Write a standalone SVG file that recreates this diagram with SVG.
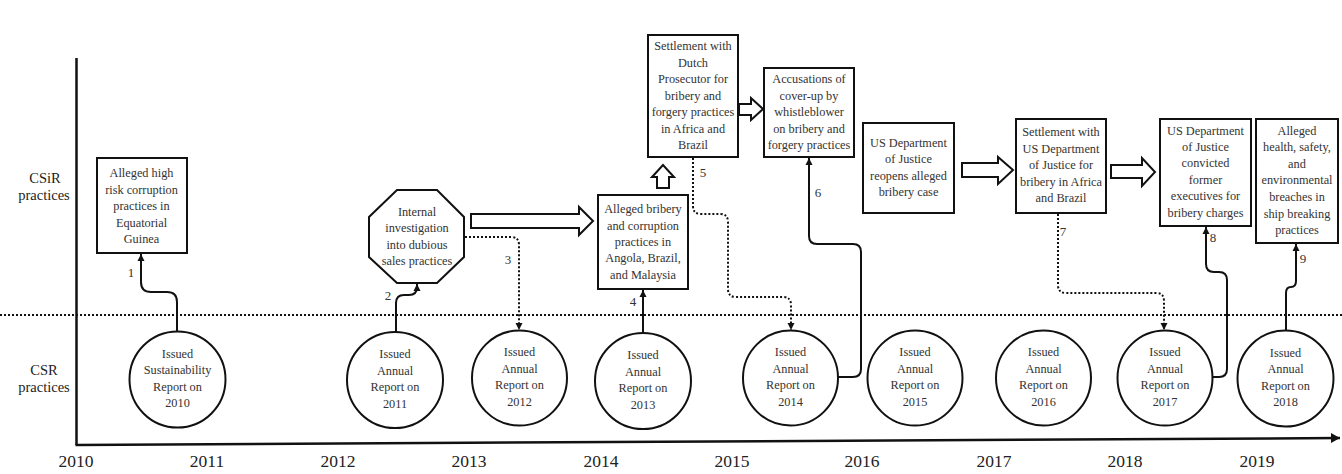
<svg xmlns="http://www.w3.org/2000/svg" width="1342" height="474" viewBox="0 0 1342 474">
<style>
.box{fill:#fff;stroke:#111;stroke-width:2}
.circ{fill:#fff;stroke:#111;stroke-width:2}
.blk{fill:#fff;stroke:#111;stroke-width:2;stroke-linejoin:miter}
.t{font-family:"Liberation Serif","Times New Roman",serif;font-size:12.3px;fill:#333;text-anchor:middle}
.lab{font-family:"Liberation Serif","Times New Roman",serif;font-size:13px;fill:#333;text-anchor:middle}
.yr{font-family:"Liberation Serif","Times New Roman",serif;font-size:17.5px;fill:#222;text-anchor:middle}
.side{font-family:"Liberation Serif","Times New Roman",serif;font-size:14.5px;fill:#222;text-anchor:middle}
.con{fill:none;stroke:#111;stroke-width:2}
.dot{fill:none;stroke:#111;stroke-width:2;stroke-dasharray:2 2}
</style>
<defs>
<marker id="ah" markerUnits="userSpaceOnUse" markerWidth="8" markerHeight="8" refX="7" refY="4" orient="auto">
<path d="M0,0.5 L7,4 L0,7.5 z" fill="#111"/>
</marker>
<marker id="axh" markerUnits="userSpaceOnUse" markerWidth="10" markerHeight="12" refX="9" refY="6" orient="auto">
<path d="M0,1 L9,6 L0,11 z" fill="#111"/>
</marker>
</defs>

<g id="axes">
<line x1="76.5" y1="58" x2="76.5" y2="445" stroke="#111" stroke-width="2.5"/>
<line x1="75.5" y1="445" x2="1340" y2="438" stroke="#111" stroke-width="2.5" marker-end="url(#axh)"/>
<line x1="0" y1="315" x2="1342" y2="315" stroke="#111" stroke-width="2" stroke-dasharray="2 2"/>
</g>

<g id="labels">
<text class="side" x="45" y="183">CSiR</text>
<text class="side" x="44" y="200">practices</text>
<text class="side" x="44" y="375">CSR</text>
<text class="side" x="44" y="392">practices</text>
<text class="yr" x="76" y="467">2010</text>
<text class="yr" x="207" y="467">2011</text>
<text class="yr" x="338" y="467">2012</text>
<text class="yr" x="469" y="467">2013</text>
<text class="yr" x="601" y="467">2014</text>
<text class="yr" x="732" y="467">2015</text>
<text class="yr" x="862" y="467">2016</text>
<text class="yr" x="994" y="467">2017</text>
<text class="yr" x="1125" y="467">2018</text>
<text class="yr" x="1257" y="467">2019</text>
</g>

<g id="connectors">
<path class="con" d="M177,331 L177,302 Q177,292 167,292 L151,292 Q141,292 141,282 L141,254" marker-end="url(#ah)"/>
<path class="con" d="M396,332 L396,303 Q396,295 404,295 L409,295 Q417,295 417,287 L417,284" marker-end="url(#ah)"/>
<path class="dot" d="M465,237 L511,237 Q519,237 519,245 L519,330" marker-end="url(#ah)"/>
<path class="con" d="M643,335 L643,290" marker-end="url(#ah)"/>
<path class="dot" d="M693,158 L693,206 Q693,214 701,214 L720,214 Q728,214 728,222 L728,289 Q728,297 736,297 L783,297 Q791,297 791,305 L791,330" marker-end="url(#ah)"/>
<path class="con" d="M838,377 L853,377 Q861,377 861,369 L861,252 Q861,244 853,244 L817,244 Q809,244 809,236 L809,158" marker-end="url(#ah)"/>
<path class="dot" d="M1058,214 L1058,285 Q1058,293 1066,293 L1156,293 Q1164,293 1164,301 L1164,330" marker-end="url(#ah)"/>
<path class="con" d="M1213,377 L1219,377 Q1227,377 1227,369 L1227,280 Q1227,272 1219,272 L1214,272 Q1206,272 1206,264 L1206,227" marker-end="url(#ah)"/>
<path class="con" d="M1286,331 L1286,293 Q1286,287 1291,287 Q1296,287 1296,281 L1296,244" marker-end="url(#ah)"/>
<text class="lab" x="131" y="277">1</text>
<text class="lab" x="388" y="300">2</text>
<text class="lab" x="508" y="264">3</text>
<text class="lab" x="633" y="306">4</text>
<text class="lab" x="703" y="177">5</text>
<text class="lab" x="818" y="197">6</text>
<text class="lab" x="1063" y="236">7</text>
<text class="lab" x="1213" y="242">8</text>
<text class="lab" x="1303" y="263">9</text>
<polygon class="blk" points="471,214 579,214 579,207 593,221 579,235 579,228 471,228"/>
<polygon class="blk" points="657,188 657,177 652,177 663,165 674,177 669,177 669,188"/>
<polygon class="blk" points="739,104 751,104 751,98 763,109 751,120 751,115 739,115"/>
<polygon class="blk" points="962,163 998,163 998,157 1013,170 998,184 998,177 962,177"/>
<polygon class="blk" points="1111,165 1142,165 1142,158 1155,172 1142,186 1142,178 1111,178"/>
</g>

<g id="n-guinea">
<rect class="box" x="97" y="158" width="90" height="95"/>
<text class="t" x="141.5" y="177">Alleged high</text>
<text class="t" x="141.5" y="193.5">risk corruption</text>
<text class="t" x="141.5" y="210">practices in</text>
<text class="t" x="141.5" y="226.5">Equatorial</text>
<text class="t" x="141.5" y="243">Guinea</text>
</g>

<g id="n-internal">
<polygon class="box" points="397,190 437,190 464,217 464,257 437,283 397,283 369,257 369,217"/>
<text class="t" x="417" y="215.5">Internal</text>
<text class="t" x="417" y="232">investigation</text>
<text class="t" x="417" y="248.5">into dubious</text>
<text class="t" x="417" y="265">sales practices</text>
</g>

<g id="n-angola">
<rect class="box" x="598" y="195" width="90" height="94"/>
<text class="t" x="643" y="213">Alleged bribery</text>
<text class="t" x="643" y="229.5">and corruption</text>
<text class="t" x="643" y="246">practices in</text>
<text class="t" x="643" y="262">Angola, Brazil,</text>
<text class="t" x="643" y="279">and Malaysia</text>
</g>

<g id="n-dutch">
<rect class="box" x="648" y="35" width="90" height="122"/>
<text class="t" x="693" y="50">Settlement with</text>
<text class="t" x="693" y="66.5">Dutch</text>
<text class="t" x="693" y="83">Prosecutor for</text>
<text class="t" x="693" y="99.5">bribery and</text>
<text class="t" x="693" y="116">forgery practices</text>
<text class="t" x="693" y="132.5">in Africa and</text>
<text class="t" x="693" y="149">Brazil</text>
</g>

<g id="n-whistle">
<rect class="box" x="764" y="68" width="90" height="89"/>
<text class="t" x="809" y="83">Accusations of</text>
<text class="t" x="809" y="99.5">cover-up by</text>
<text class="t" x="809" y="116">whistleblower</text>
<text class="t" x="809" y="132.5">on bribery and</text>
<text class="t" x="809" y="149">forgery practices</text>
</g>

<g id="n-reopens">
<rect class="box" x="863" y="123" width="91" height="90"/>
<text class="t" x="908.5" y="146.5">US Department</text>
<text class="t" x="908.5" y="163">of Justice</text>
<text class="t" x="908.5" y="180">reopens alleged</text>
<text class="t" x="908.5" y="196">bribery case</text>
</g>

<g id="n-settle-us">
<rect class="box" x="1016" y="119" width="90" height="94"/>
<text class="t" x="1061" y="136">Settlement with</text>
<text class="t" x="1061" y="152.5">US Department</text>
<text class="t" x="1061" y="169">of Justice for</text>
<text class="t" x="1061" y="185.5">bribery in Africa</text>
<text class="t" x="1061" y="202">and Brazil</text>
</g>

<g id="n-convicted">
<rect class="box" x="1160" y="119" width="91" height="107" stroke-width="2.5"/>
<text class="t" x="1205.5" y="135">US Department</text>
<text class="t" x="1205.5" y="151">of Justice</text>
<text class="t" x="1205.5" y="167">convicted</text>
<text class="t" x="1205.5" y="183.5">former</text>
<text class="t" x="1205.5" y="200">executives for</text>
<text class="t" x="1205.5" y="216.5">bribery charges</text>
</g>

<g id="n-ship">
<rect class="box" x="1256" y="119" width="82" height="124"/>
<text class="t" x="1297" y="135">Alleged</text>
<text class="t" x="1297" y="151">health, safety,</text>
<text class="t" x="1297" y="167.5">and</text>
<text class="t" x="1297" y="184">environmental</text>
<text class="t" x="1297" y="201">breaches in</text>
<text class="t" x="1297" y="217.5">ship breaking</text>
<text class="t" x="1297" y="234">practices</text>
</g>

<g id="c2010">
<circle class="circ" cx="177.5" cy="379.5" r="48"/>
<text class="t" x="177.5" y="357.5">Issued</text>
<text class="t" x="177.5" y="374">Sustainability</text>
<text class="t" x="177.5" y="390.5">Report on</text>
<text class="t" x="177.5" y="407">2010</text>
</g>
<g id="c2011">
<circle class="circ" cx="395" cy="380" r="48"/>
<text class="t" x="395" y="358">Issued</text>
<text class="t" x="395" y="374.5">Annual</text>
<text class="t" x="395" y="391">Report on</text>
<text class="t" x="395" y="407.5">2011</text>
</g>
<g id="c2012">
<circle class="circ" cx="519.5" cy="378" r="47.5"/>
<text class="t" x="519.5" y="356">Issued</text>
<text class="t" x="519.5" y="372.5">Annual</text>
<text class="t" x="519.5" y="389">Report on</text>
<text class="t" x="519.5" y="405.5">2012</text>
</g>
<g id="c2013">
<circle class="circ" cx="643" cy="381" r="48"/>
<text class="t" x="643" y="359">Issued</text>
<text class="t" x="643" y="375.5">Annual</text>
<text class="t" x="643" y="392">Report on</text>
<text class="t" x="643" y="408.5">2013</text>
</g>
<g id="c2014">
<circle class="circ" cx="790.5" cy="378" r="47.5"/>
<text class="t" x="790.5" y="356">Issued</text>
<text class="t" x="790.5" y="372.5">Annual</text>
<text class="t" x="790.5" y="389">Report on</text>
<text class="t" x="790.5" y="405.5">2014</text>
</g>
<g id="c2015">
<circle class="circ" cx="915" cy="378" r="47.5"/>
<text class="t" x="915" y="356">Issued</text>
<text class="t" x="915" y="372.5">Annual</text>
<text class="t" x="915" y="389">Report on</text>
<text class="t" x="915" y="405.5">2015</text>
</g>
<g id="c2016">
<circle class="circ" cx="1043.5" cy="378" r="47.5"/>
<text class="t" x="1043.5" y="356">Issued</text>
<text class="t" x="1043.5" y="372.5">Annual</text>
<text class="t" x="1043.5" y="389">Report on</text>
<text class="t" x="1043.5" y="405.5">2016</text>
</g>
<g id="c2017">
<circle class="circ" cx="1165" cy="378" r="47.5"/>
<text class="t" x="1165" y="356">Issued</text>
<text class="t" x="1165" y="372.5">Annual</text>
<text class="t" x="1165" y="389">Report on</text>
<text class="t" x="1165" y="405.5">2017</text>
</g>
<g id="c2018">
<circle class="circ" cx="1285.5" cy="378.5" r="48"/>
<text class="t" x="1285.5" y="356.5">Issued</text>
<text class="t" x="1285.5" y="373">Annual</text>
<text class="t" x="1285.5" y="389.5">Report on</text>
<text class="t" x="1285.5" y="406">2018</text>
</g>
</svg>
